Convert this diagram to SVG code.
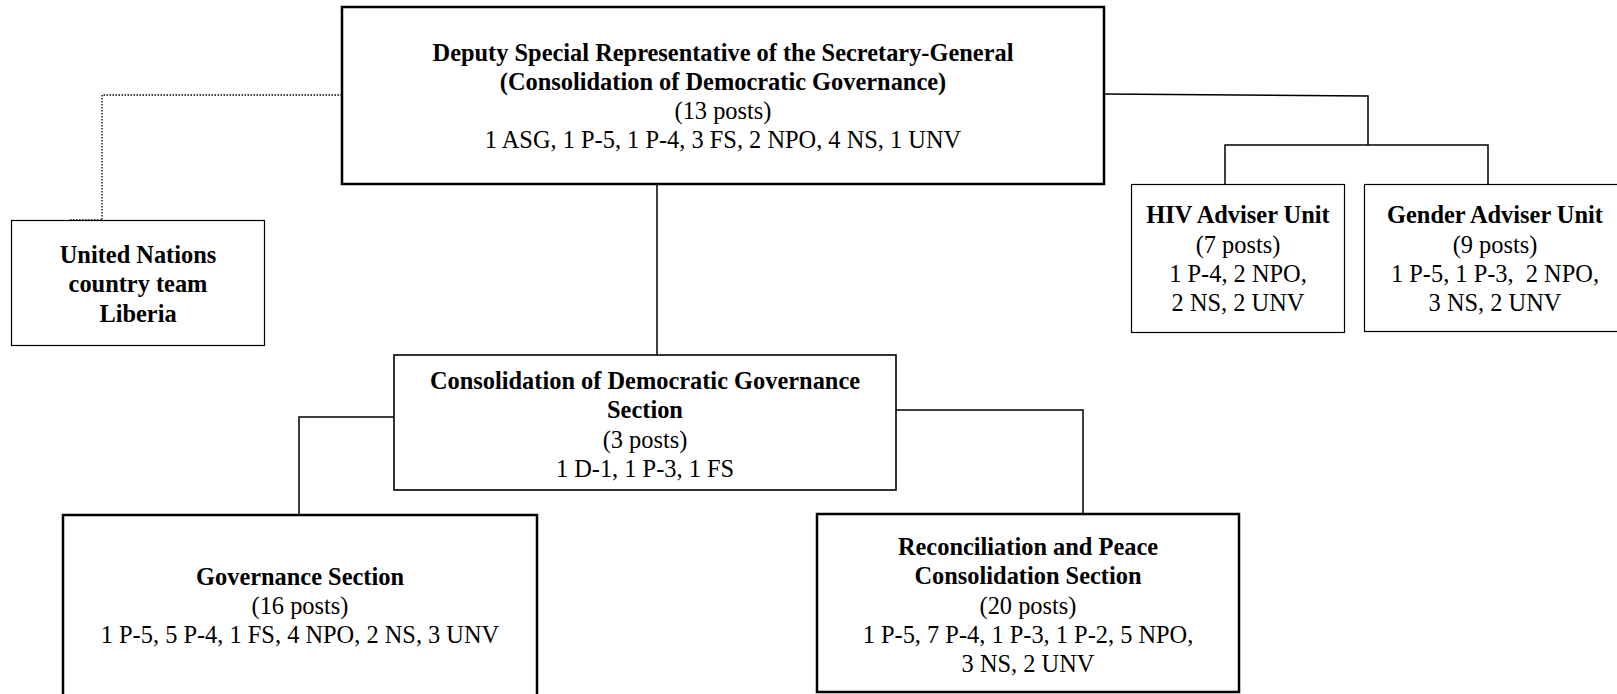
<svg xmlns="http://www.w3.org/2000/svg" width="1617" height="694" viewBox="0 0 1617 694">
<style>
.b{fill:#fff;stroke:#000;}
.thick{stroke-width:2.5;}
.mid{stroke-width:1.6;}
.thin{stroke-width:1.2;}
text{font-family:"Liberation Serif","Times New Roman",Times,serif;font-size:24.4px;fill:#000;text-anchor:middle;}
.h{font-weight:bold;}
.c{fill:none;stroke:#000;stroke-width:1.5;}
.d{fill:none;stroke:#000;stroke-width:1.3;stroke-dasharray:1.5 1.5;}
</style>
<rect width="1617" height="694" fill="#fff"/>
<g id="connectors">
<polyline class="d" points="342,95 102,95 102,220"/>
<line class="d" x1="70" y1="220" x2="102" y2="220"/>
<line class="c" x1="657" y1="184" x2="657" y2="355"/>
<polyline class="c" points="1104,94 1368,96 1368,145"/>
<polyline class="c" points="1225,184 1225,145 1488,145 1488,184"/>
<polyline class="c" points="394,417 299,417 299,515"/>
<polyline class="c" points="896,410 1083,410 1083,513"/>
</g>
<g id="dsrsg">
<rect class="b thick" x="342" y="7" width="762" height="177"/>
<text class="h" x="723" y="61">Deputy Special Representative of the Secretary-General</text>
<text class="h" x="723" y="90">(Consolidation of Democratic Governance)</text>
<text x="723" y="119">(13 posts)</text>
<text x="723" y="148">1 ASG, 1 P-5, 1 P-4, 3 FS, 2 NPO, 4 NS, 1 UNV</text>
</g>
<g id="unct">
<rect class="b thin" x="11.5" y="220.5" width="253" height="125"/>
<text class="h" x="138" y="263">United Nations</text>
<text class="h" x="138" y="292">country team</text>
<text class="h" x="138" y="322">Liberia</text>
</g>
<g id="hiv">
<rect class="b thin" x="1131.5" y="184.5" width="213" height="148"/>
<text class="h" x="1238" y="223">HIV Adviser Unit</text>
<text x="1238" y="253">(7 posts)</text>
<text x="1238" y="282">1 P-4, 2 NPO,</text>
<text x="1238" y="311">2 NS, 2 UNV</text>
</g>
<g id="gender">
<rect class="b thin" x="1364.5" y="184.5" width="260" height="147"/>
<text class="h" x="1495" y="223">Gender Adviser Unit</text>
<text x="1495" y="253">(9 posts)</text>
<text x="1495" y="282" xml:space="preserve">1 P-5, 1 P-3,  2 NPO,</text>
<text x="1495" y="311">3 NS, 2 UNV</text>
</g>
<g id="cdg">
<rect class="b mid" x="394" y="355" width="502" height="135"/>
<text class="h" x="645" y="389">Consolidation of Democratic Governance</text>
<text class="h" x="645" y="418">Section</text>
<text x="645" y="448">(3 posts)</text>
<text x="645" y="477">1 D-1, 1 P-3, 1 FS</text>
</g>
<g id="governance">
<rect class="b thick" x="63" y="515" width="474" height="190"/>
<text class="h" x="300" y="585">Governance Section</text>
<text x="300" y="614">(16 posts)</text>
<text x="300" y="643">1 P-5, 5 P-4, 1 FS, 4 NPO, 2 NS, 3 UNV</text>
</g>
<g id="reconciliation">
<rect class="b thick" x="817" y="514" width="422" height="178"/>
<text class="h" x="1028" y="555">Reconciliation and Peace</text>
<text class="h" x="1028" y="584">Consolidation Section</text>
<text x="1028" y="614">(20 posts)</text>
<text x="1028" y="643">1 P-5, 7 P-4, 1 P-3, 1 P-2, 5 NPO,</text>
<text x="1028" y="672">3 NS, 2 UNV</text>
</g>
</svg>
